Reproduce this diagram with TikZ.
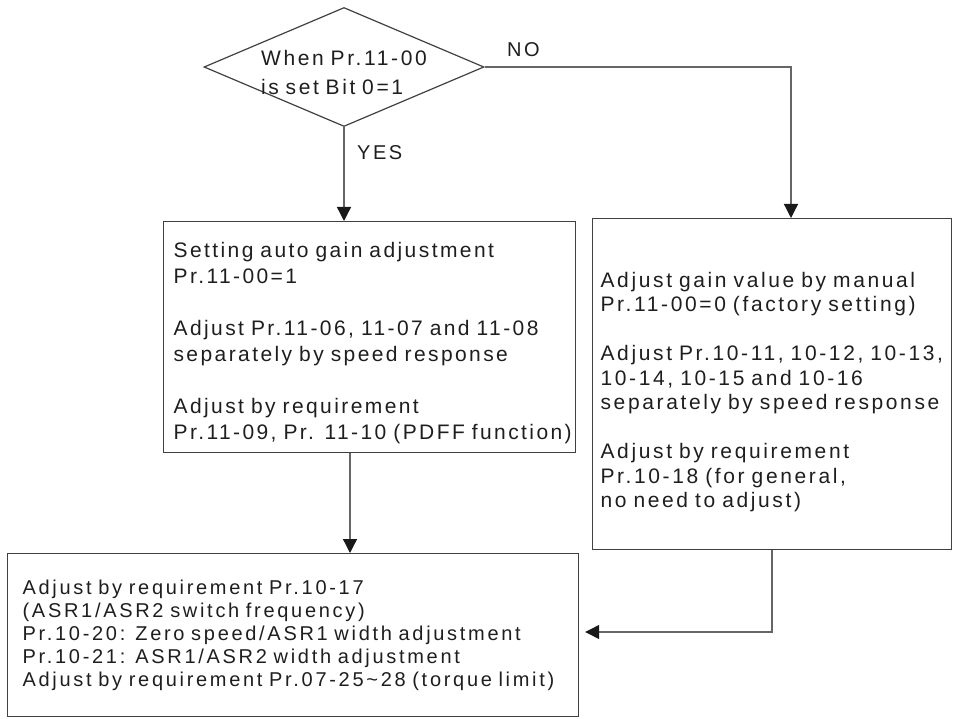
\documentclass[tikz,border=0pt]{standalone}
\usepackage{fontspec}
\setmainfont{Liberation Sans}[LetterSpace=12.5,WordSpace=0.8]
\usetikzlibrary{shapes.geometric,arrows.meta}
\definecolor{boxline}{HTML}{404040}
\definecolor{connline}{HTML}{666666}
\definecolor{txt}{HTML}{1E1E1E}
\newcommand\ml[1]{\mbox{#1}}
\tikzset{
  boxstyle/.style={draw=boxline, line width=1.2pt, anchor=north west, align=left,
    inner ysep=0pt, text=txt},
  decision/.style={diamond, draw=boxline, line width=1.2pt, minimum width=280pt,
    minimum height=119pt, aspect=2.35, inner sep=-20pt, align=left, text=txt,
    font=\fontsize{21}{29}\selectfont},
  conn/.style={draw=connline, line width=1.3pt,
    -{Triangle[length=14pt,width=14pt,fill=black!90,color=black!90]}},
  lbl/.style={anchor=base west, inner sep=0pt, text=txt, font=\fontsize{20}{24}\selectfont}
}
\begin{document}
\begin{tikzpicture}[x=1pt,y=-1pt]
\useasboundingbox (0,0) rectangle (953,719);
\node[decision] (dia) at (344,67) {When Pr.11-00\rule{0pt}{26pt}\\is set Bit 0=1};
\node[boxstyle, minimum width=412pt, minimum height=231pt, text width=392pt, inner xsep=10pt,
  font=\fontsize{21}{26}\selectfont\addfontfeatures{LetterSpace=11.5}] (lbox) at (163,221)
  {\ml{\rule{0pt}{27pt}Setting auto gain adjustment}\\\ml{Pr.11-00=1}\\[26pt]\ml{Adjust Pr.11-06, 11-07 and 11-08}\\\ml{separately by speed response}\\[26pt]\ml{Adjust by requirement}\\\ml{Pr.11-09, Pr. 11-10 (PDFF function)}};
\node[boxstyle, minimum width=359pt, minimum height=331pt, text width=343pt, inner xsep=8pt,
  font=\fontsize{21}{24.5}\selectfont] (rbox) at (592,218)
  {\ml{\rule{0pt}{31pt}Adjust gain value by manual}\\\ml{Pr.11-00=0 (factory setting)}\\[24.5pt]\ml{Adjust Pr.10-11, 10-12, 10-13,}\\\ml{10-14, 10-15 and 10-16}\\\ml{separately by speed response}\\[24.5pt]\ml{Adjust by requirement}\\\ml{Pr.10-18 (for general,}\\\ml{no need to adjust)}};
\node[boxstyle, minimum width=571pt, minimum height=163pt, text width=541pt, inner xsep=15pt,
  font=\fontsize{20}{23}\selectfont\addfontfeatures{LetterSpace=13.5}] (bbox) at (7,553)
  {\ml{Adjust by requirement Pr.10-17}\\\ml{(ASR1/ASR2 switch frequency)}\\\ml{Pr.10-20: Zero speed/ASR1 width adjustment}\\\ml{Pr.10-21: ASR1/ASR2 width adjustment}\\\ml{Adjust by requirement Pr.07-25\textasciitilde 28 (torque limit)}};
\node[lbl] (no) at (507,57) {NO};
\node[lbl] (yes) at (357,160) {YES};
\coordinate (xr) at (791,0);
\coordinate (xl) at (350,0);
\coordinate (xb) at (772,0);
\coordinate (yb) at (0,632);
\draw[conn] (dia.east) -| (rbox.north -| xr);
\draw[conn] (dia.south) -- (lbox.north -| dia.south);
\draw[conn] (lbox.south -| xl) -- (bbox.north -| xl);
\draw[conn, shorten >=6pt] (rbox.south -| xb) |- (bbox.east |- yb);
\end{tikzpicture}
\end{document}
